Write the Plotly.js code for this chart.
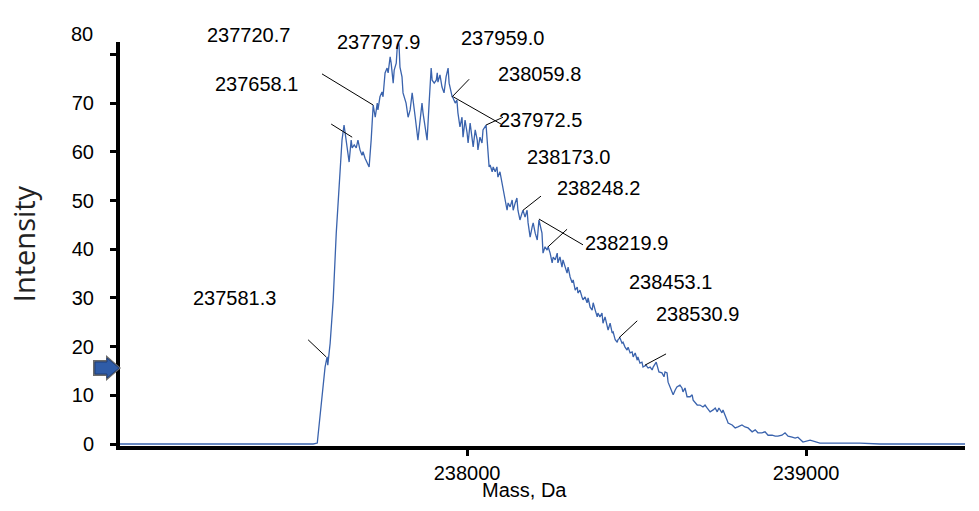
<!DOCTYPE html>
<html>
<head>
<meta charset="utf-8">
<script src="https://cdn.plot.ly/plotly-3.0.1.min.js"></script>
<style>html,body{margin:0;padding:0;background:#fff;}#chart{width:979px;height:511px;}</style>
</head>
<body>
<div id="chart"></div>
<script>
// Mass (Da) and intensity of the deconvoluted spectrum
const mass = [236976,237546,237558,237572,237581,237587,237589,237596,237605,237614,237619,237622,237631,237637,237646,237652,237658,237661,237667,237673,237678,237684,237690,237693,237699,237711,237717,237723,237729,237735,237737,237743,237749,237752,237758,237764,237767,237773,237776,237782,237785,237791,237794,237799,237802,237808,237811,237820,237826,237832,237838,237841,237847,237855,237861,237867,237870,237876,237882,237888,237894,237897,237903,237909,237912,237914,237920,237926,237932,237938,237944,237947,237953,237956,237959,237965,237970,237973,237979,237985,237988,237994,238000,238003,238009,238015,238018,238024,238030,238032,238038,238044,238047,238056,238059,238062,238065,238068,238074,238077,238083,238088,238091,238097,238103,238106,238112,238118,238121,238127,238133,238136,238142,238147,238150,238156,238162,238165,238171,238177,238180,238186,238192,238195,238201,238207,238212,238221,238224,238230,238236,238239,238245,238251,238254,238260,238266,238268,238274,238280,238283,238289,238295,238298,238304,238310,238313,238319,238325,238327,238333,238339,238342,238348,238354,238357,238363,238369,238372,238378,238384,238386,238392,238398,238401,238407,238413,238416,238422,238428,238431,238437,238443,238445,238451,238457,238460,238466,238472,238475,238481,238487,238490,238496,238502,238504,238510,238516,238519,238528,238534,238540,238546,238549,238558,238560,238566,238575,238581,238584,238590,238593,238599,238608,238614,238619,238628,238634,238637,238643,238649,238658,238664,238667,238679,238687,238696,238702,238708,238717,238726,238732,238738,238743,238752,238755,238767,238770,238782,238791,238799,238811,238820,238829,238841,238850,238858,238870,238879,238888,238900,238909,238917,238929,238938,238947,238959,238968,238976,238991,239012,239041,239080,239121,239159,239218,239316,239469];
const intensity = [0,0,0.2,9.0,15.8,17.9,16.2,20.7,29.6,43.3,49.1,54.2,62.4,65.5,60.4,57.9,62.4,60.8,61.4,60.8,62.4,60.4,59.3,60.0,58.7,56.9,62.4,69.6,67.1,70.0,68.6,71.3,72.3,71.3,76.2,77.2,76.2,79.5,78.2,74.1,76.8,78.2,81.5,82.3,77.4,75.4,72.1,70.0,67.1,68.6,72.1,70.6,67.1,62.4,65.9,70.0,68.0,65.1,62.4,70.0,77.2,74.7,74.1,74.7,76.2,74.3,75.8,73.3,72.1,75.4,77.2,74.1,72.1,71.3,71.0,70.0,70.6,68.0,65.1,67.1,63.0,66.5,63.9,61.8,65.9,63.0,61.0,64.5,62.4,60.4,63.0,61.8,64.5,65.5,62.4,60.4,56.9,57.3,55.9,56.9,55.9,56.9,54.8,55.9,53.6,52.2,50.1,48.0,49.5,48.7,50.1,48.0,49.5,50.5,48.0,46.0,47.4,48.0,46.6,48.0,45.4,42.5,44.6,45.4,43.3,41.9,46.0,43.3,39.2,40.5,39.8,40.5,39.2,37.2,38.4,37.8,39.2,37.2,38.4,36.3,37.8,36.3,35.1,36.3,34.3,33.1,33.7,31.6,32.2,31.0,31.6,30.2,29.6,30.2,29.0,30.0,28.1,27.5,29.0,27.5,26.1,26.9,26.1,26.9,24.8,26.1,24.0,23.4,24.8,22.8,23.0,21.4,20.9,21.4,21.8,20.7,20.9,19.9,19.3,19.9,18.7,18.9,17.9,18.7,17.2,17.9,16.6,16.8,15.8,16.2,15.6,15.8,15.2,15.8,16.8,16.2,14.8,14.6,13.8,14.8,14.6,12.7,11.5,10.1,11.1,11.7,12.1,11.5,10.7,11.5,9.7,9.7,10.1,9.0,8.0,8.0,7.6,8.0,7.4,6.6,7.0,7.4,6.6,7.4,6.4,7.0,4.9,4.3,3.9,3.3,3.5,3.9,3.5,3.3,2.5,2.9,2.3,2.3,2.5,1.8,1.8,1.6,1.6,1.8,2.3,1.6,1.4,1.2,1.4,0.4,0.8,0.2,0.2,0.2,0.2,0,0,0];

// Peak labels
const peakLabels = ["237720.7","237797.9","237959.0","237658.1","238059.8","237972.5","238173.0","238248.2","238219.9","237581.3","238453.1","238530.9"];
const labelMass = [237354,237738,238103,237378,238215,238218,238298,238389,238469,237313,238599,238681];
const labelInt = [84.0,82.5,83.4,73.9,76.0,66.5,58.9,52.6,41.3,30.0,33.3,26.7];

// Leader lines
const leadX0 = [237572,237599,237531,238006,237959,238056,238165,238212,238239,238448,238525];
const leadY0 = [76.0,65.7,21.4,74.9,71.3,65.5,48.0,46.2,40.5,21.8,16.2];
const leadX1 = [237723,237661,237584,237956,238100,238106,238218,238342,238295,238502,238587];
const leadY1 = [69.6,63.0,17.9,71.3,65.7,67.1,50.9,40.9,44.1,25.3,18.5];

const yTickVals = [0,10,20,30,40,50,60,70,80];
const yTickText = ["0","10","20","30","40","50","60","70",""];
const xTickVals = [238000,239000];
const xTickText = ["238000","239000"];
const xTitle = "Mass, Da";
const yTitle = "Intensity";

const FONT = "Liberation Sans, Arial, sans-serif";
const X_RANGE = [236976, 239469];
const Y_RANGE = [-0.41, 82.55];
const M = {l: 120, r: 14, t: 42, b: 65};
const W = 979, H = 511;
const PW = W - M.l - M.r, PH = H - M.t - M.b;
// pixel -> paper helpers for decorations outside the plot area
const px2paper = p => (p - M.l) / PW;
const py2paper = p => (H - M.b - p) / PH;
const y2paper = v => (v - Y_RANGE[0]) / (Y_RANGE[1] - Y_RANGE[0]);

const traces = [
  {x: mass, y: intensity, type: "scatter", mode: "lines",
   line: {color: "#3a63ad", width: 1.3}, hoverinfo: "x+y"}
];

const annotations = peakLabels.map((t, i) => ({
  x: labelMass[i], y: y2paper(labelInt[i]), xref: "x", yref: "paper", text: t, showarrow: false,
  xanchor: "center", yanchor: "middle",
  font: {family: FONT, size: 20, color: "#000"}
}));
annotations.push({x: px2paper(82), y: py2paper(34), xref: "paper", yref: "paper", text: "80",
  showarrow: false, font: {family: FONT, size: 20, color: "#000"}, xanchor: "center", yanchor: "middle"});
annotations.push({x: px2paper(524), y: py2paper(490), xref: "paper", yref: "paper", text: xTitle,
  showarrow: false, font: {family: FONT, size: 20, color: "#000"}, xanchor: "center", yanchor: "middle"});

const shapes = leadX0.map((x0, i) => ({
  type: "line", xref: "x", yref: "y", x0: x0, y0: leadY0[i], x1: leadX1[i], y1: leadY1[i],
  line: {color: "#000", width: 1}
}));
// blue arrow marker on the y axis (decoration), gray shadow then blue body
const shadowPts = [[93,360],[106,360],[106,355],[121,368],[106,381],[106,376],[93,376]];
const arrowPts = [[95,362],[107,362],[107,358],[119,368],[107,378],[107,374],[95,374]];
const toPath = pts => "M " + pts.map(p => px2paper(p[0]) + "," + py2paper(p[1])).join(" L ") + " Z";
shapes.push({type: "path", xref: "paper", yref: "paper", path: toPath(shadowPts),
  fillcolor: "#6b6b6b", line: {width: 0}, layer: "above"});
shapes.push({type: "path", xref: "paper", yref: "paper", path: toPath(arrowPts),
  fillcolor: "#2f5ca8", line: {color: "#1f3f7a", width: 1}, layer: "above"});

const layout = {
  width: W, height: H,
  margin: M,
  paper_bgcolor: "#fff", plot_bgcolor: "#fff",
  showlegend: false,
  font: {family: FONT, size: 20, color: "#000"},
  xaxis: {
    range: X_RANGE, tickvals: xTickVals, ticktext: xTickText,
    showline: true, linewidth: 4, linecolor: "#000",
    ticks: "outside", ticklen: 6, tickwidth: 3, tickcolor: "#000",
    showgrid: false, zeroline: false,
    tickfont: {family: FONT, size: 20}
  },
  yaxis: {
    range: Y_RANGE, tickvals: yTickVals, ticktext: yTickText,
    showline: true, linewidth: 4, linecolor: "#000",
    ticks: "outside", ticklen: 6, tickwidth: 3, tickcolor: "#000",
    showgrid: false, zeroline: false, ticklabelstandoff: 12,
    tickfont: {family: FONT, size: 20},
    title: {text: yTitle, font: {family: "Open Sans, sans-serif", size: 29, color: "#222"}, standoff: 29}
  },
  annotations: annotations,
  shapes: shapes
};

Plotly.newPlot("chart", traces, layout, {displayModeBar: false, staticPlot: true});
</script>
</body>
</html>
